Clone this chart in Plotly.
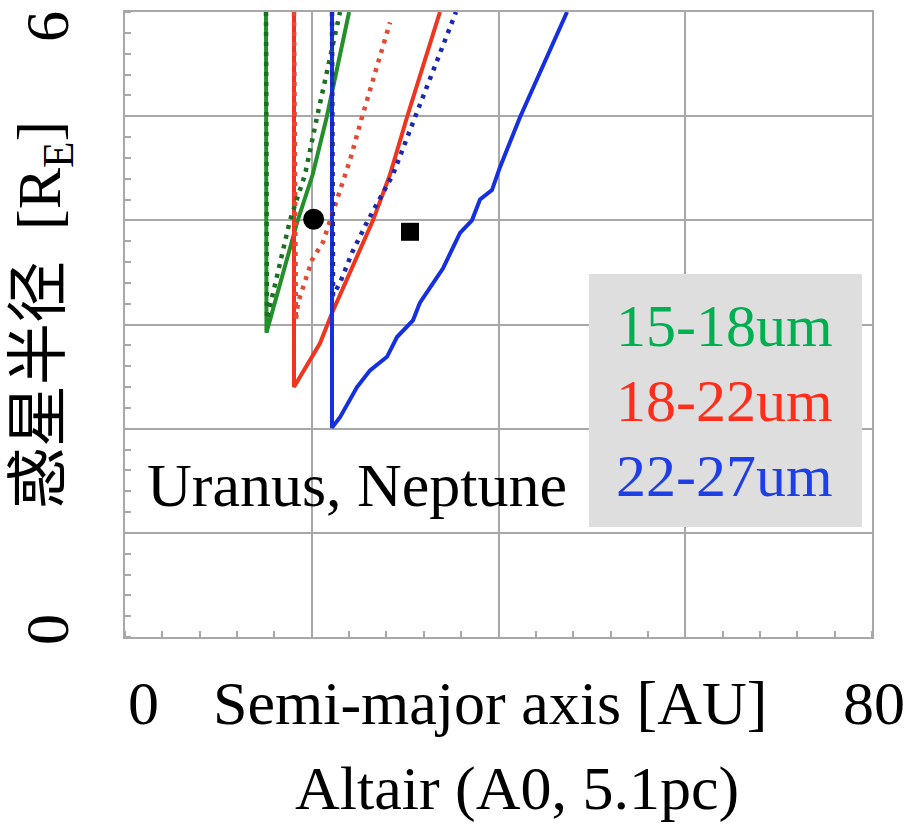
import plotly.graph_objects as go

# ---------------- data ----------------
green_solid_x = [15.1, 15.15, 18.5, 20.1, 21.6, 24.0]
green_solid_y = [6.0, 2.92, 4.0, 4.44, 4.99, 6.0]
green_dot_x = [15.1, 15.2, 17.67, 19.28, 20.56, 21.63, 23.03]
green_dot_y = [6.0, 3.05, 4.0, 4.44, 4.99, 5.42, 6.0]

red_solid_x = [18.1, 18.1, 20.88, 22.17, 26.56, 28.38, 30.20, 33.73]
red_solid_y = [6.0, 2.40, 2.82, 3.11, 4.00, 4.44, 4.99, 6.0]
red_dot_x = [18.1, 18.3, 18.53, 20.03, 21.2, 23.03, 24.1, 25.38, 28.38]
red_dot_y = [6.0, 3.04, 3.21, 3.62, 3.79, 4.29, 4.58, 4.99, 5.90]

blue_solid_x = [22.17, 22.17, 23.03, 24.85, 26.24, 28.06, 29.13, 30.84, 31.59, 32.98,
                34.06, 35.88, 37.16, 38.02, 39.30, 40.16, 42.30, 47.34]
blue_solid_y = [6.0, 2.01, 2.11, 2.40, 2.56, 2.69, 2.88, 3.04, 3.21, 3.40,
                3.54, 3.88, 4.00, 4.20, 4.29, 4.51, 4.99, 6.0]
blue_dot_x = [22.17, 22.28, 23.03, 24.31, 26.02, 28.70, 31.06, 35.45]
blue_dot_y = [6.0, 3.28, 3.40, 3.69, 4.00, 4.44, 4.99, 6.0]

planet_circle_x = [20.2]
planet_circle_y = [4.01]
planet_square_x = [30.52]
planet_square_y = [3.89]

x_grid_vals = [0, 20, 40, 60, 80]
x_label_vals = [0, 80]
x_label_text = ["0", "80"]
y_grid_vals = [0, 1, 2, 3, 4, 5, 6]
y_label_vals = [0, 6]
y_label_text = ["0", "6"]

legend_labels = ["15-18um", "18-22um", "22-27um"]
legend_colors = ["#00b050", "#ff2d1a", "#1f3fe6"]

# ---------------- figure ----------------
SERIF = "Liberation Serif, Times New Roman, serif"
GRID = "#a8a8a8"

fig = go.Figure()

def add_line(x, y, color, dash=None, width=4):
    line = dict(color=color, width=width)
    if dash:
        line["dash"] = dash
    fig.add_trace(go.Scatter(x=x, y=y, mode="lines", line=line,
                             showlegend=False, hoverinfo="skip"))

add_line(green_solid_x, green_solid_y, "#23902a")
add_line(red_solid_x, red_solid_y, "#f0341e")
add_line(blue_solid_x, blue_solid_y, "#1530e0")
add_line(green_dot_x, green_dot_y, "#1c6f22", dash="4px,6px", width=4.5)
add_line(red_dot_x, red_dot_y, "#e24a36", dash="4px,6px", width=4.5)
add_line(blue_dot_x, blue_dot_y, "#1a28b0", dash="4px,6px", width=4.5)

fig.add_trace(go.Scatter(x=planet_circle_x, y=planet_circle_y, mode="markers",
                         marker=dict(symbol="circle", size=21, color="black"),
                         showlegend=False, hoverinfo="skip"))
fig.add_trace(go.Scatter(x=planet_square_x, y=planet_square_y, mode="markers",
                         marker=dict(symbol="square", size=18, color="black"),
                         showlegend=False, hoverinfo="skip"))

fig.update_layout(
    width=908, height=826,
    margin=dict(l=125, r=36, t=12, b=189, pad=0),
    paper_bgcolor="white", plot_bgcolor="white",
    font=dict(family=SERIF, size=60, color="black"),
)

fig.update_xaxes(
    range=[0, 80], tickmode="array", tickvals=x_grid_vals, showticklabels=False,
    automargin=False,
    showgrid=True, gridcolor=GRID, gridwidth=2,
    showline=True, linecolor=GRID, linewidth=2, mirror=True,
    ticks="", zeroline=False,
    minor=dict(tickmode="linear", tick0=0, dtick=4, ticks="inside", ticklen=6,
               tickcolor=GRID, tickwidth=1.5, showgrid=False),
)
fig.update_yaxes(
    range=[0, 6], tickmode="array", tickvals=y_grid_vals, showticklabels=False,
    automargin=False,
    showgrid=True, gridcolor=GRID, gridwidth=2,
    showline=True, linecolor=GRID, linewidth=2, mirror=True,
    ticks="", zeroline=False,
    minor=dict(tickmode="linear", tick0=0, dtick=0.2, ticks="inside", ticklen=6,
               tickcolor=GRID, tickwidth=1.5, showgrid=False),
)

# x tick labels, placed on the x scale
for val, txt, xs in zip(x_label_vals, x_label_text, [18, 2]):
    fig.add_annotation(text=txt, xref="x", yref="paper", x=val, y=0,
                       xshift=xs, yshift=-66,
                       xanchor="center", yanchor="middle", showarrow=False,
                       font=dict(family=SERIF, size=62, color="black"))

# y tick labels (rotated), placed on the y scale
for val, txt, ys in zip(y_label_vals, y_label_text, [7, -15]):
    fig.add_annotation(text=txt, xref="paper", yref="y", x=0, y=val,
                       xshift=-78, yshift=ys, textangle=-90,
                       xanchor="center", yanchor="middle", showarrow=False,
                       font=dict(family=SERIF, size=62, color="black"))

# legend-like grey box
fig.add_shape(type="rect", xref="paper", yref="paper",
              x0=(589 - 125) / 747, x1=(862 - 125) / 747,
              y0=(637 - 527) / 625, y1=(637 - 274) / 625,
              fillcolor="#dedede", line=dict(width=0), layer="above")

legend_y_px = [326, 401, 476]
for lbl, col, ypx in zip(legend_labels, legend_colors, legend_y_px):
    fig.add_annotation(text=lbl, xref="paper", yref="paper",
                       x=(724 - 125) / 747, y=(637 - ypx) / 625,
                       xanchor="center", yanchor="middle", showarrow=False,
                       font=dict(family=SERIF, size=60, color=col))

fig.add_annotation(text="Uranus, Neptune", xref="paper", yref="paper",
                   x=(357 - 125) / 747, y=(637 - 485) / 625,
                   xanchor="center", yanchor="middle", showarrow=False,
                   font=dict(family=SERIF, size=62, color="black"))

# axis titles
fig.add_annotation(text="Semi-major axis [AU]", xref="paper", yref="paper",
                   x=(490 - 125) / 747, y=(637 - 703) / 625,
                   xanchor="center", yanchor="middle", showarrow=False,
                   font=dict(family=SERIF, size=62, color="black"))
fig.add_annotation(text="Altair (A0, 5.1pc)", xref="paper", yref="paper",
                   x=(517 - 125) / 747, y=(637 - 825) / 625,
                   xanchor="center", yanchor="bottom", showarrow=False,
                   font=dict(family=SERIF, size=62, color="black"))
fig.add_annotation(text="惑星半径\u00a0\u00a0[R<sub>E</sub>]", xref="paper", yref="paper",
                   x=0, xshift=-82, y=(637 - 315) / 625, textangle=-90,
                   xanchor="center", yanchor="middle", showarrow=False,
                   font=dict(family="Liberation Serif, Noto Sans CJK SC", size=62, color="black"))

fig.write_html("out.html")
